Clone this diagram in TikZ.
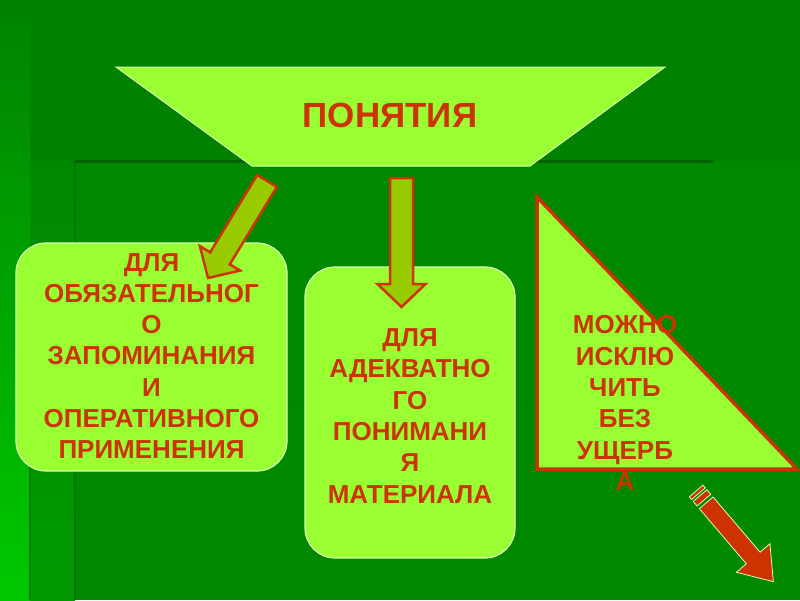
\documentclass[tikz,border=0pt]{standalone}
\usepackage{fontspec}
\setmainfont{Liberation Sans}
\definecolor{bgtop}{HTML}{008200}
\definecolor{bgmain}{HTML}{008800}
\definecolor{lgreen}{HTML}{99FF33}
\definecolor{boxedge}{HTML}{D8FFB0}
\definecolor{agreen}{HTML}{99CC00}
\definecolor{txtred}{HTML}{CC3300}
\definecolor{darkline}{HTML}{006400}
\definecolor{brightg}{HTML}{00C800}
\definecolor{midg}{HTML}{009A00}
\tikzset{
  lbl/.style={text=txtred, font=\bfseries\fontsize{26}{31.3}\selectfont, align=center, inner sep=0pt},
  greenbox/.style={fill=lgreen, draw=boxedge, line width=1.2pt, rounded corners=30pt, inner sep=0pt},
  barrow/.style={fill=agreen, draw=txtred, line width=2.5pt, line join=miter},
  redarrow/.style={fill=txtred, draw=boxedge, line width=0.8pt, line join=miter},
}
\begin{document}
\begin{tikzpicture}[x=1pt,y=-1pt]
\useasboundingbox (0,0) rectangle (800,600);
% background
\fill[bgtop] (0,0) rectangle (800,600);
\fill[bgmain] (75,161) rectangle (800,600);
\shade[top color=bgtop, bottom color=brightg] (0,0) rectangle (30,600);
\shade[top color=bgmain, bottom color=midg] (30,161) rectangle (75,600);
\draw[darkline!90!green, line width=2pt] (75,161) -- (75,600);
\draw[green!50!black, line width=1.5pt] (30,440) -- (30,600);
\draw[darkline, line width=3pt] (75,161) -- (713,161);
\draw[darkline!80!green, line width=2pt] (75,405) -- (713,405);

% top trapezoid
\filldraw[fill=lgreen, draw=boxedge, line width=1pt] (116,67) -- (665,67) -- (530,166) -- (252,166) -- cycle;
\node[lbl, font=\bfseries\fontsize{35}{40}\selectfont] (top) at (390,115.5) {ПОНЯТИЯ};

% boxes
\node[greenbox, minimum width=271pt, minimum height=228pt] (b1) at (151.5,357) {};
\node[greenbox, minimum width=210pt, minimum height=291pt] (b2) at (410,412.5) {};

% arrows from the top
\begin{scope}[shift={(267,181)}, rotate=-121.3]
  \filldraw[barrow] (0,-11.5) -- (90.5,-11.5) -- (90.5,-23.5) -- (113.5,0) -- (90.5,23.5) -- (90.5,11.5) -- (0,11.5) -- cycle;
\end{scope}
\begin{scope}[shift={(401.5,178)}, rotate=-90]
  \filldraw[barrow] (0,-11.5) -- (106,-11.5) -- (106,-24) -- (129,0) -- (106,24) -- (106,11.5) -- (0,11.5) -- cycle;
\end{scope}

\node[lbl] (t1) at (151.5,356) {ДЛЯ\\ОБЯЗАТЕЛЬНОГ\\О\\ЗАПОМИНАНИЯ\\И\\ОПЕРАТИВНОГО\\ПРИМЕНЕНИЯ};
\node[lbl] (t2) at (410,416) {ДЛЯ\\АДЕКВАТНО\\ГО\\ПОНИМАНИ\\Я\\МАТЕРИАЛА};

% triangle
\filldraw[fill=lgreen, draw=txtred, line width=3.5pt, line join=miter] (537,197) -- (537,469) -- (797,469) -- cycle;
\node[lbl] (t3) at (625,403) {МОЖНО\\ИСКЛЮ\\ЧИТЬ\\БЕЗ\\УЩЕРБ\\А};

% red striped arrow
\begin{scope}[shift={(706.2,502.8)}, rotate=-49.6]
  \filldraw[redarrow] (0,-9) -- (72.5,-9) -- (72.5,-22) -- (103.6,0) -- (72.5,22) -- (72.5,9) -- (0,9) -- cycle;
  \filldraw[redarrow] (-9.5,-9) rectangle (-3.5,9);
  \filldraw[redarrow] (-15.5,-9) rectangle (-12,9);
\end{scope}
\end{tikzpicture}
\end{document}
